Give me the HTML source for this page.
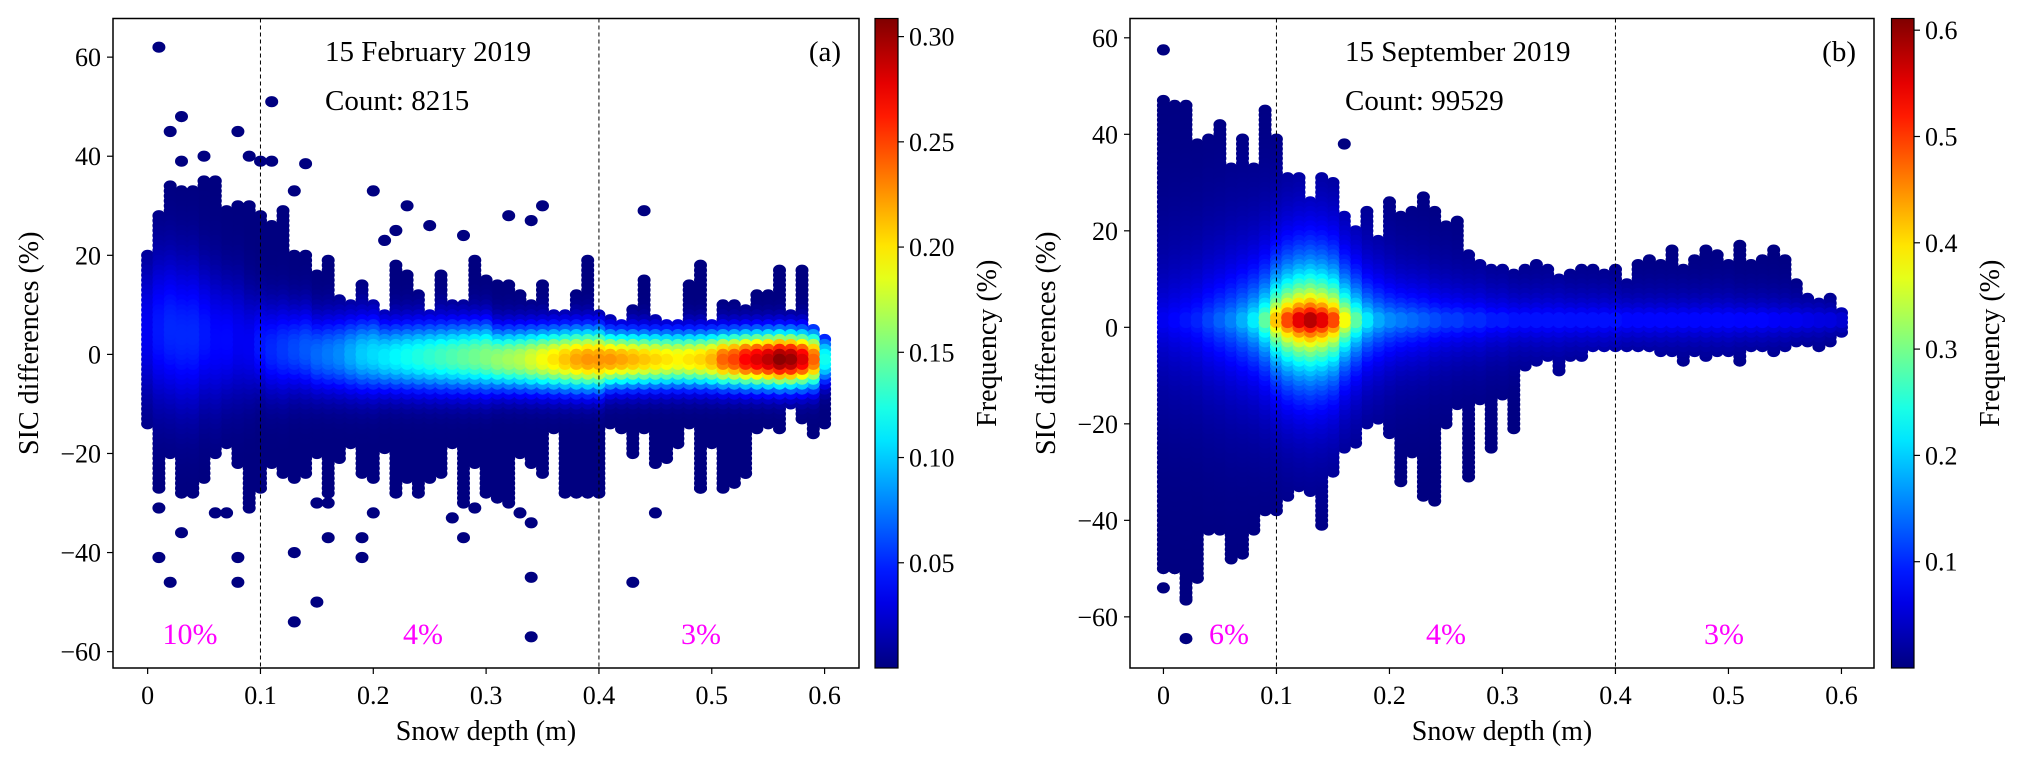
<!DOCTYPE html>
<html><head><meta charset="utf-8"><style>
html,body{margin:0;padding:0;background:#fff;}
svg, svg text{font-family:"Liberation Serif","Times New Roman",serif;}
</style></head><body>
<svg id="fig" width="2020" height="761" viewBox="0 0 2020 761" xmlns="http://www.w3.org/2000/svg" font-family="Liberation Serif, Times New Roman, serif"></svg>
<script>
const xCats = [0,0.01,0.02,0.03,0.04,0.05,0.06,0.07,0.08,0.09,0.1,0.11,0.12,0.13,0.14,0.15,0.16,0.17,0.18,0.19,0.2,0.21,0.22,0.23,0.24,0.25,0.26,0.27,0.28,0.29,0.3,0.31,0.32,0.33,0.34,0.35,0.36,0.37,0.38,0.39,0.4,0.41,0.42,0.43,0.44,0.45,0.46,0.47,0.48,0.49,0.5,0.51,0.52,0.53,0.54,0.55,0.56,0.57,0.58,0.59,0.6];
const xTicks = [0,0.1,0.2,0.3,0.4,0.5,0.6];
const xTickLabels = ["0","0.1","0.2","0.3","0.4","0.5","0.6"];
const yTicks = [60,40,20,0,-20,-40,-60];
const yTickLabels = ["60","40","20","0","\u221220","\u221240","\u221260"];

// Panel (a)
const leftHi = [20,28,34,33,33,35,35,29,30,30,28,26,29,20,20,16,19,11,10,14,10,8,18,16,12,8,16,10,10,19,15,14,14,12,10,14,8,8,12,19,8,7,6,9,15,7,6,6,14,18,6,10,10,9,12,12,17,8,17,5,3];
const leftLo = [-14,-27,-20,-28,-28,-25,-20,-18,-22,-30,-27,-22,-24,-25,-24,-20,-28,-21,-18,-24,-25,-19,-28,-25,-28,-25,-24,-18,-30,-22,-28,-29,-30,-20,-22,-24,-15,-28,-28,-28,-28,-14,-15,-20,-15,-22,-21,-18,-14,-27,-18,-27,-26,-24,-15,-14,-15,-10,-13,-16,-14];
const leftCenter = [5,5,5,4,4,4,3,3,3,2,2,1,1,1,1,0,0,0,0,0,0,-0.5,-0.5,-0.5,-0.5,-0.5,-0.5,-0.5,-0.5,-0.5,-0.5,-1,-1,-1,-1,-1,-1,-1,-1,-1,-1,-1,-1,-1,-1,-1,-1,-1,-1,-1,-1,-1,-1,-1,-1,-1,-1,-1,-1,-1,-1];
const leftSigma = [9,10,10,10,10,9,9,8,8,7,6,6,6,5.5,5.5,5,5,5,5,5,5,4.5,4.5,4.5,4.5,4.5,4.5,4.5,4.5,4.5,4.5,4,4,4,4,4,4,4,4,4,4,3.5,3.5,3.5,3.5,3.5,3.5,3.5,3.5,3.5,3.5,3.5,3.5,3.5,3.5,3.5,3.5,3.5,3.5,3.5,3,3];
const leftPeak = [0.035,0.045,0.05,0.05,0.05,0.045,0.04,0.04,0.035,0.035,0.045,0.05,0.055,0.06,0.065,0.07,0.075,0.08,0.09,0.1,0.105,0.11,0.115,0.12,0.125,0.13,0.135,0.14,0.145,0.15,0.155,0.16,0.165,0.17,0.18,0.19,0.2,0.21,0.22,0.225,0.225,0.225,0.22,0.215,0.21,0.205,0.2,0.195,0.2,0.205,0.215,0.24,0.25,0.27,0.28,0.29,0.305,0.3,0.28,0.24,0.12];
const leftOutX = [0.01,0.11,0.03,0.02,0.08,0.03,0.05,0.09,0.1,0.11,0.14,0.13,0.2,0.23,0.35,0.44,0.32,0.34,0.25,0.22,0.21,0.28,0.01,0.06,0.07,0.09,0.03,0.01,0.08,0.02,0.08,0.13,0.13,0.15,0.16,0.19,0.19,0.2,0.27,0.28,0.29,0.33,0.34,0.34,0.34,0.43,0.45,0.49,0.15,0.16,0.52,0.53];
const leftOutY = [62,51,48,45,45,39,40,40,39,39,38.5,33,33,30,30,29,28,27,26,25,23,24,-31,-32,-32,-31,-36,-41,-41,-46,-46,-40,-54,-50,-37,-37,-41,-32,-33,-37,-31,-32,-34,-45,-57,-46,-32,-27,-30,-30,-26,-24];

// Panel (b)
const rightHi = [47,46,46,38,39,42,33,39,33,45,39,31,31,26,31,30,23,20,24,18,26,23,24,27,24,21,22,15,13,12,12,11,12,13,12,10,11,12,12,11,12,9,13,14,13,16,12,14,16,15,13,17,13,14,16,14,9,6,5,6,3];
const rightLo = [-50,-50,-56,-52,-42,-42,-48,-47,-42,-38,-38,-35,-33,-34,-41,-30,-25,-24,-20,-19,-22,-32,-26,-35,-36,-20,-16,-31,-15,-25,-14,-21,-8,-7,-6,-9,-6,-6,-4,-4,-4,-4,-4,-4,-5,-5,-7,-5,-6,-5,-5,-7,-4,-4,-5,-4,-3,-3,-4,-3,-1];
const rightCenter = [1.5,1.5,1.5,1.5,1.5,1.5,1.5,1.5,1.5,1.5,1.5,1.5,1.5,1.5,1.5,1.5,1.5,1.5,1.5,1.5,1.5,1.5,1.5,1.5,1.5,1.5,1.5,1.5,1.5,1.5,1.5,1.5,1.5,1.5,1.5,1.5,1.5,1.5,1.5,1.5,1.5,1.5,1.5,1.5,1.5,1.5,1.5,1.5,1.5,1.5,1.5,1.5,1.5,1.5,1.5,1.5,1.5,1.5,1.5,1.5,1.5];
const rightSigma = [12,12,12,11.5,11.5,11,11,10.5,10,9.5,9,9,9,9,9,9,8.5,8.5,8,8,7.5,7,7,7,6.5,6.5,6,6,6,5.5,5.5,5,5,5,5,5,4.5,4.5,4.5,4.5,4.5,4,4,4,4,4,4,4,4,4,4,3.5,3.5,3.5,3.5,3.5,3,3,3,2.5,2.5];
const rightPeak = [0.07,0.08,0.09,0.1,0.12,0.14,0.16,0.19,0.23,0.3,0.44,0.52,0.58,0.61,0.58,0.52,0.4,0.3,0.23,0.19,0.17,0.16,0.15,0.14,0.13,0.12,0.12,0.11,0.11,0.1,0.1,0.095,0.095,0.095,0.095,0.095,0.095,0.095,0.095,0.095,0.095,0.09,0.09,0.09,0.09,0.09,0.09,0.09,0.09,0.09,0.09,0.09,0.09,0.09,0.085,0.08,0.08,0.075,0.07,0.07,0.06];
const rightOutX = [0,0,0.02,0.02,0.16,0.01,0.03];
const rightOutY = [57.5,-54,-56.5,-64.5,38,-50,-52];

const leftCbTicks = [0.05,0.10,0.15,0.20,0.25,0.30];
const leftCbLabels = ["0.05","0.10","0.15","0.20","0.25","0.30"];
const rightCbTicks = [0.1,0.2,0.3,0.4,0.5,0.6];
const rightCbLabels = ["0.1","0.2","0.3","0.4","0.5","0.6"];

const NS = "http://www.w3.org/2000/svg";
const FONT = "Liberation Serif, Times New Roman, serif";
const svg = document.getElementById('fig');
function mk(tag, attrs, parent){const e=document.createElementNS(NS,tag);for(const k in attrs)e.setAttribute(k,attrs[k]);if(tag==='text')e.setAttribute('font-family',FONT);(parent||svg).appendChild(e);return e;}
function jet(t){t=Math.max(0,Math.min(1,t));const c=v=>Math.round(255*Math.max(0,Math.min(1,v)));
  return `rgb(${c(1.5-Math.abs(4*t-3))},${c(1.5-Math.abs(4*t-2))},${c(1.5-Math.abs(4*t-1))})`;}

function panel(o){
  const g = mk('g',{});
  
  
  const X = v => o.x0 + (v - o.xmin)/(o.xmax - o.xmin)*(o.x1 - o.x0);
  const Y = v => o.y1 - (v - o.ymin)/(o.ymax - o.ymin)*(o.y1 - o.y0);
  const cbY = v => o.y1 - (v - 0)/(o.cmax)*(o.y1 - o.y0);
  const clip = mk('clipPath',{id:o.name+'-clip'},g);
  mk('rect',{x:o.x0,y:o.y0,width:o.x1-o.x0,height:o.y1-o.y0},clip);
  const dots = [];
  for(let i=0;i<xCats.length;i++){
    for(let y=Math.round(o.lo[i]); y<=Math.round(o.hi[i]); y++){
      const d=(y-o.center[i])/o.sigma[i];
      const f = o.profile==='exp' ? o.peak[i]*Math.exp(-Math.abs(d)) : o.peak[i]*Math.exp(-d*d/2);
      dots.push({x:xCats[i],y:y,f:f});
    }
  }
  for(let j=0;j<o.outX.length;j++) dots.push({x:o.outX[j],y:o.outY[j],f:0});
  dots.sort((a,b)=>a.f-b.f);
  const dg = mk('g',{'clip-path':`url(#${o.name}-clip)`},g);
  
  
  for(const p of dots){
    const e = mk('ellipse',{cx:X(p.x).toFixed(1),cy:Y(p.y).toFixed(1),rx:6.5,ry:5.6,fill:jet(p.f/o.cmax)},dg);
    
    
  }
  [0.1,0.4].forEach(v=>{
    const l = mk('line',{x1:X(v),x2:X(v),y1:o.y0,y2:o.y1,stroke:'#000','stroke-width':1,'stroke-dasharray':'4,3'},g);
    
    
  });
  const fr = mk('rect',{x:o.x0,y:o.y0,width:o.x1-o.x0,height:o.y1-o.y0,fill:'none',stroke:'#000','stroke-width':1.5},g);
  
  
  xTicks.forEach((v,i)=>{
    mk('line',{x1:X(v),x2:X(v),y1:o.y1,y2:o.y1+6,stroke:'#000','stroke-width':1.2},g);
    const t=mk('text',{x:X(v),y:o.y1+36,'text-anchor':'middle','font-size':26},g);
    t.textContent=xTickLabels[i];
    
    
  });
  yTicks.forEach((v,i)=>{
    mk('line',{x1:o.x0-6,x2:o.x0,y1:Y(v),y2:Y(v),stroke:'#000','stroke-width':1.2},g);
    const t=mk('text',{x:o.x0-12,y:Y(v)+9,'text-anchor':'end','font-size':26},g);
    t.textContent=yTickLabels[i];
    
    
  });
  const xt=mk('text',{x:(o.x0+o.x1)/2,y:740,'text-anchor':'middle','font-size':28},g);
  xt.textContent='Snow depth (m)';
  
  
  const yt=mk('text',{x:0,y:0,'text-anchor':'middle','font-size':28,transform:`translate(${o.ytX},${(o.y0+o.y1)/2}) rotate(-90)`},g);
  yt.textContent='SIC differences (%)';
  
  
  const t1=mk('text',{x:o.annX,y:61,'font-size':29},g); t1.textContent=o.date;
  
  
  const t2=mk('text',{x:o.annX,y:110,'font-size':29},g); t2.textContent=o.count;
  
  
  const t3=mk('text',{x:o.x1-18,y:61,'font-size':29,'text-anchor':'end'},g); t3.textContent=o.label;
  
  
  o.pcts.forEach((s,i)=>{
    const t=mk('text',{x:o.pctX[i],y:644,'font-size':30,'text-anchor':'middle',fill:'#ff00ff'},g);
    t.textContent=s;
    
    
  });
  const gid=o.name+'-grad';
  const lg=mk('linearGradient',{id:gid,x1:0,y1:1,x2:0,y2:0},g);
  for(let k=0;k<=20;k++) mk('stop',{offset:k/20,'stop-color':jet(k/20)},lg);
  const cb=mk('rect',{x:o.cb0,y:o.y0,width:o.cb1-o.cb0,height:o.y1-o.y0,fill:`url(#${gid})`,stroke:'#000','stroke-width':1.2},g);
  
  
  o.cbTicks.forEach((v,i)=>{
    mk('line',{x1:o.cb1,x2:o.cb1+6,y1:cbY(v),y2:cbY(v),stroke:'#000','stroke-width':1.2},g);
    const t=mk('text',{x:o.cb1+11,y:cbY(v)+9,'font-size':26},g);
    t.textContent=o.cbLabels[i];
    
    
  });
  const ct=mk('text',{x:0,y:0,'text-anchor':'middle','font-size':28,transform:`translate(${o.ctX},${(o.y0+o.y1)/2}) rotate(-90)`},g);
  ct.textContent='Frequency (%)';
  
  
}

panel({name:'panel-a',x0:113,x1:859,y0:18.5,y1:668,xmin:-0.0307,xmax:0.6305,ymin:-63.3,ymax:67.8,profile:'gauss',
  hi:leftHi,lo:leftLo,center:leftCenter,sigma:leftSigma,peak:leftPeak,outX:leftOutX,outY:leftOutY,
  cmax:0.3086,cb0:875,cb1:898,cbTicks:leftCbTicks,cbLabels:leftCbLabels,ctX:996,ytX:38,
  annX:325,date:'15 February 2019',count:'Count: 8215',label:'(a)',pcts:['10%','4%','3%'],pctX:[190,423,701]});
panel({name:'panel-b',x0:1130,x1:1874,y0:18.5,y1:668,xmin:-0.0296,xmax:0.6288,ymin:-70.6,ymax:64,profile:'exp',
  hi:rightHi,lo:rightLo,center:rightCenter,sigma:rightSigma,peak:rightPeak,outX:rightOutX,outY:rightOutY,
  cmax:0.611,cb0:1891.5,cb1:1914,cbTicks:rightCbTicks,cbLabels:rightCbLabels,ctX:1999,ytX:1055,
  annX:1345,date:'15 September 2019',count:'Count: 99529',label:'(b)',pcts:['6%','4%','3%'],pctX:[1229,1446,1724]});
</script>
</body></html>
